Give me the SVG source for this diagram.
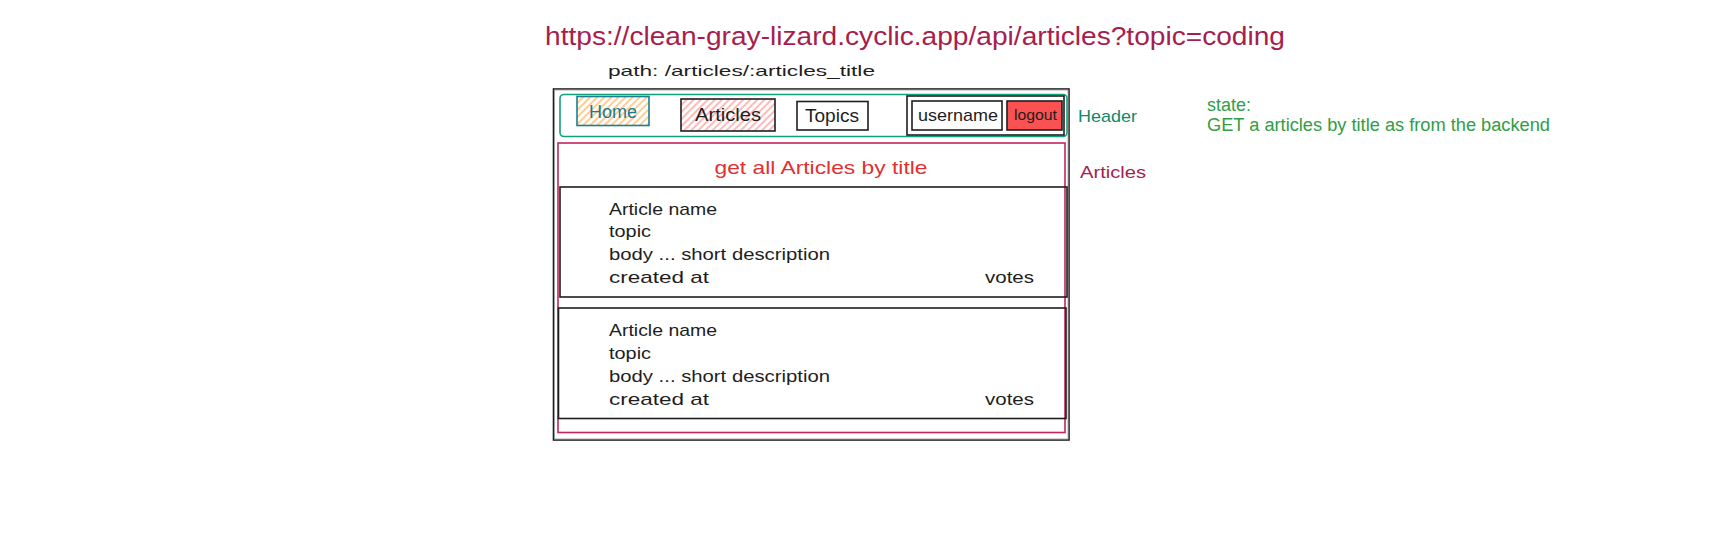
<svg xmlns="http://www.w3.org/2000/svg" width="1712" height="542" viewBox="0 0 1712 542">
<defs>
<pattern id="hOrange" patternUnits="userSpaceOnUse" width="5" height="5" patternTransform="rotate(45)">
<rect width="5" height="5" fill="#ffffff"/>
<line x1="1" y1="0" x2="1" y2="5" stroke="#ffc078" stroke-width="1.6"/>
</pattern>
<pattern id="hRed" patternUnits="userSpaceOnUse" width="5" height="5" patternTransform="rotate(45)">
<rect width="5" height="5" fill="#ffffff"/>
<line x1="1" y1="0" x2="1" y2="5" stroke="#ffa8a8" stroke-width="1.6"/>
</pattern>
</defs>
<style>
.hand{font-family:"Liberation Sans","DejaVu Sans",sans-serif;}
.box{fill:#ffffff;stroke:#1e1e1e;stroke-width:1.6;}
.dark{fill:#1e1e1e;}
.sans{font-family:"Liberation Sans",Arial,sans-serif;}
</style>
<rect width="1712" height="542" fill="#ffffff"/>

<g id="url">
<text class="hand" x="545" y="45" font-size="26" fill="#a61e4d" textLength="740" lengthAdjust="spacingAndGlyphs">https://clean-gray-lizard.cyclic.app/api/articles?topic=coding</text>
</g>
<g id="path-label">
<text class="hand dark" x="608" y="76" font-size="15" textLength="267" lengthAdjust="spacingAndGlyphs">path: /articles/:articles_title</text>
</g>

<g id="page">
<rect x="553.5" y="89" width="515.5" height="351" fill="#ffffff" stroke="#1e1e1e" stroke-width="1.6"/>
<rect x="554.5" y="90" width="513.5" height="349" fill="none" stroke="#9a9a9a" stroke-width="0.8"/>
</g>

<g id="header">
<rect x="560" y="94.5" width="507" height="42" rx="4" fill="none" stroke="#12a07a" stroke-width="1.6"/>
<text class="hand" x="1078" y="122" font-size="17" fill="#0c8a6a" textLength="59" lengthAdjust="spacingAndGlyphs">Header</text>
</g>

<g id="home">
<rect x="577" y="96.5" width="72" height="29" fill="url(#hOrange)" stroke="#1a7f8e" stroke-width="1.6"/>
<text class="sans" x="613" y="118" font-size="18" fill="#1b7a8a" text-anchor="middle">Home</text>
</g>

<g id="articles-btn">
<rect x="681" y="99" width="94" height="32" fill="url(#hRed)" stroke="#1e1e1e" stroke-width="1.6"/>
<text class="hand dark" x="695" y="121" font-size="19" textLength="66" lengthAdjust="spacingAndGlyphs">Articles</text>
</g>

<g id="topics-btn">
<rect x="797" y="101.5" width="71" height="28.5" class="box"/>
<text class="hand dark" x="805" y="122" font-size="18" textLength="54" lengthAdjust="spacingAndGlyphs">Topics</text>
</g>

<g id="user-group">
<rect x="907" y="96" width="157" height="39" fill="none" stroke="#1e1e1e" stroke-width="1.6"/>
</g>
<g id="username">
<rect x="912" y="101" width="90" height="29" class="box"/>
<text class="hand dark" x="918" y="121" font-size="17" textLength="80" lengthAdjust="spacingAndGlyphs">username</text>
</g>
<g id="logout">
<rect x="1007" y="101" width="55" height="29" fill="#fa5252" stroke="#1e1e1e" stroke-width="1.6"/>
<text class="hand dark" x="1014" y="120" font-size="15" textLength="43" lengthAdjust="spacingAndGlyphs">logout</text>
</g>

<g id="articles-section">
<rect x="558" y="143" width="507" height="289.5" fill="none" stroke="#c2255c" stroke-width="1.6"/>
<text class="hand" x="821" y="174" font-size="19" fill="#e03131" text-anchor="middle" textLength="213" lengthAdjust="spacingAndGlyphs">get all Articles by title</text>
<text class="hand" x="1080" y="178" font-size="17" fill="#a61e4d" textLength="66" lengthAdjust="spacingAndGlyphs">Articles</text>
</g>

<g id="card-1">
<rect x="560" y="187" width="507" height="110" fill="none" stroke="#1e1e1e" stroke-width="1.6"/>
<text class="hand dark" font-size="17" x="609">
<tspan x="609" y="215" textLength="108" lengthAdjust="spacingAndGlyphs">Article name</tspan>
<tspan x="609" y="237" textLength="42" lengthAdjust="spacingAndGlyphs">topic</tspan>
<tspan x="609" y="260" textLength="221" lengthAdjust="spacingAndGlyphs">body ... short description</tspan>
<tspan x="609" y="283" textLength="100" lengthAdjust="spacingAndGlyphs">created at</tspan>
</text>
<text class="hand dark" font-size="17" x="985" y="283" textLength="49" lengthAdjust="spacingAndGlyphs">votes</text>
</g>

<g id="card-2">
<rect x="558.5" y="308" width="507.5" height="110.5" fill="none" stroke="#1e1e1e" stroke-width="1.6"/>
<text class="hand dark" font-size="17" x="609">
<tspan x="609" y="336" textLength="108" lengthAdjust="spacingAndGlyphs">Article name</tspan>
<tspan x="609" y="359" textLength="42" lengthAdjust="spacingAndGlyphs">topic</tspan>
<tspan x="609" y="382" textLength="221" lengthAdjust="spacingAndGlyphs">body ... short description</tspan>
<tspan x="609" y="405" textLength="100" lengthAdjust="spacingAndGlyphs">created at</tspan>
</text>
<text class="hand dark" font-size="17" x="985" y="405" textLength="49" lengthAdjust="spacingAndGlyphs">votes</text>
</g>

<g id="state-note">
<text class="sans" font-size="18" fill="#2f9e44">
<tspan x="1207" y="111">state:</tspan>
<tspan x="1207" y="131" textLength="343" lengthAdjust="spacingAndGlyphs">GET a articles by title as from the backend</tspan>
</text>
</g>

<g id="connectors"></g>
</svg>
